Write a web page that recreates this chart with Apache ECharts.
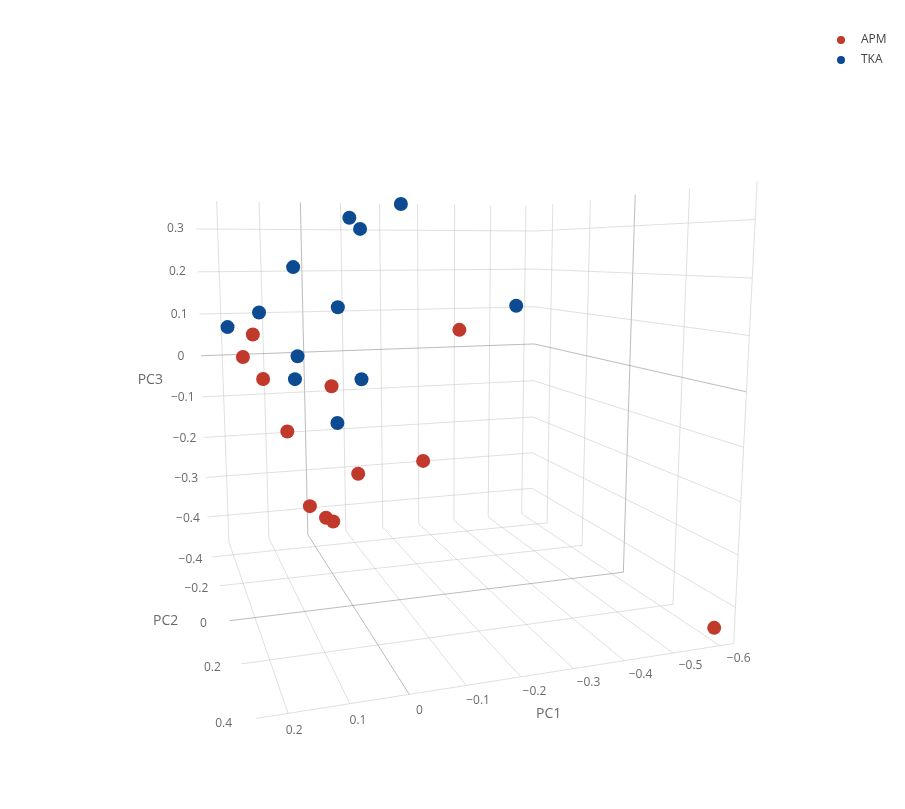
<!DOCTYPE html>
<html><head><meta charset="utf-8">
<script src="https://cdn.jsdelivr.net/npm/echarts@6.0.0/dist/echarts.min.js"></script>
<style>html,body{margin:0;padding:0;background:#fff}#c{width:905px;height:809px}</style>
</head><body><div id="c"></div>
<script>
// ---- data ----
const seriesNames = ['APM', 'TKA'];
const apmPC1 = [0.162, 0.173, 0.170, 0.068, 0.110, -0.414, 0.033, -0.153, 0.103, 0.103, 0.122, -0.630];
const apmPC2 = [-0.20, -0.30, 0.00, 0.15, -0.10, -0.50, 0.20, 0.00, 0.10, 0.25, 0.40, 0.34];
const apmPC3 = [0.074, 0.016, 0.006, 0.008, -0.119, 0.044, -0.144, -0.178, -0.224, -0.204, -0.166, -0.464];
const tkaPC1 = [-0.241, -0.075, -0.075, 0.047, -0.401, 0.141, 0.021, 0.224, 0.111, 0.083, 0.000, 0.015];
const tkaPC2 = [-0.45, -0.30, -0.20, -0.35, -0.10, -0.25, 0.00, -0.10, 0.05, -0.15, 0.10, -0.05];
const tkaPC3 = [0.362, 0.322, 0.295, 0.212, 0.129, 0.117, 0.140, 0.099, 0.053, -0.018, 0.011, -0.098];
const pc1Ticks = [0.2, 0.1, 0, -0.1, -0.2, -0.3, -0.4, -0.5, -0.6];
const pc1Labels = ['0.2', '0.1', '0', '−0.1', '−0.2', '−0.3', '−0.4', '−0.5', '−0.6'];
const pc2Ticks = [-0.4, -0.2, 0, 0.2, 0.4];
const pc2Labels = ['−0.4', '−0.2', '0', '0.2', '0.4'];
const pc3Ticks = [-0.4, -0.3, -0.2, -0.1, 0, 0.1, 0.2, 0.3];
const pc3Labels = ['−0.4', '−0.3', '−0.2', '−0.1', '0', '0.1', '0.2', '0.3'];

// ---- scene (axis ranges and camera) ----
const X0 = -0.63, X1 = 0.25, Y0 = -0.5, Y1 = 0.4, Z0 = -0.47, Z1 = 0.365;
const CAM = [-0.55175, -0.06720, -0.03676, 0.34942, -0.04188, -0.13178, -0.53424, 0.37818, -0.16931, -0.52225, -0.08346];
function proj(X, Y, Z) {
  const w = CAM[8] * X + CAM[9] * Y + CAM[10] * Z + 1;
  return [1000 * (CAM[0] * X + CAM[1] * Y + CAM[2] * Z + CAM[3]) / w,
          1000 * (CAM[4] * X + CAM[5] * Y + CAM[6] * Z + CAM[7]) / w, w];
}

const GRID = '#c2c2c2', ZERO = '#7a7a7a';
const lines = [];
function seg(a, b, zero) {
  const p = proj(...a), q = proj(...b);
  lines.push({coords: [[p[0], p[1]], [q[0], q[1]]], lineStyle: {color: zero ? ZERO : GRID, width: 1}});
}
pc1Ticks.forEach(x => { seg([x, Y0, Z0], [x, Y0, Z1], x === 0); seg([x, Y0, Z0], [x, Y1, Z0], x === 0); });
pc2Ticks.forEach(y => { seg([X0, y, Z0], [X0, y, Z1], y === 0); seg([X0, y, Z0], [X1, y, Z0], y === 0); });
pc3Ticks.forEach(z => { seg([X1, Y0, z], [X0, Y0, z], z === 0); seg([X0, Y0, z], [X0, Y1, z], z === 0); });

function pts(a, b, c) {
  return a.map((v, i) => proj(v, b[i], c[i]))
    .sort((p, q) => q[2] - p[2])
    .map(p => [p[0], p[1]]);
}

const labels = [];
pc1Ticks.forEach((x, i) => { const p = proj(x, Y1 + 0.055, Z0); labels.push({value: [p[0], p[1]], name: pc1Labels[i]}); });
pc2Ticks.forEach((y, i) => { const p = proj(X1 + 0.05, y, Z0); labels.push({value: [p[0], p[1]], name: pc2Labels[i]}); });
pc3Ticks.forEach((z, i) => { const p = proj(X1 + 0.047, Y0, z); labels.push({value: [p[0], p[1]], name: pc3Labels[i]}); });
const titles = [];
{ const p = proj((X0 + X1) / 2, Y1 + 0.13, Z0); titles.push({value: [p[0], p[1]], name: 'PC1'}); }
{ const p = proj(X1 + 0.12, (Y0 + Y1) / 2 + 0.01, Z0); titles.push({value: [p[0], p[1]], name: 'PC2'}); }
{ const p = proj(X1 + 0.12, Y0, (Z0 + Z1) / 2); titles.push({value: [p[0], p[1]], name: 'PC3'}); }

const FONT = '"Open Sans", verdana, arial, sans-serif';
const ch = echarts.init(document.getElementById('c'));
ch.setOption({
  animation: false,
  textStyle: {fontFamily: FONT},
  grid: {left: 0, right: 0, top: 0, bottom: 0},
  xAxis: {type: 'value', min: 0, max: 905, show: false},
  yAxis: {type: 'value', min: 0, max: 809, inverse: true, show: false},
  legend: {
    data: seriesNames, orient: 'vertical', left: 832, top: 28, icon: 'circle',
    itemWidth: 30, itemHeight: 8, itemGap: 6,
    textStyle: {color: '#444', fontSize: 12, lineHeight: 14, fontFamily: FONT, padding: [0, 0, 0, 0]}
  },
  series: [
    {type: 'lines', coordinateSystem: 'cartesian2d', data: lines, silent: true, z: 1},
    {type: 'scatter', silent: true, symbolSize: 0, data: labels, z: 2,
     label: {show: true, position: 'inside', formatter: p => p.name, color: '#444', fontSize: 12, fontFamily: FONT}},
    {type: 'scatter', silent: true, symbolSize: 0, data: titles, z: 2,
     label: {show: true, position: 'inside', formatter: p => p.name, color: '#444', fontSize: 14, fontFamily: FONT}},
    {name: 'APM', type: 'scatter', data: pts(apmPC1, apmPC2, apmPC3), symbolSize: 14, z: 3,
     itemStyle: {color: '#c0392b', opacity: 1}},
    {name: 'TKA', type: 'scatter', data: pts(tkaPC1, tkaPC2, tkaPC3), symbolSize: 14, z: 3,
     itemStyle: {color: '#0c4b92', opacity: 1}}
  ]
});
</script></body></html>
